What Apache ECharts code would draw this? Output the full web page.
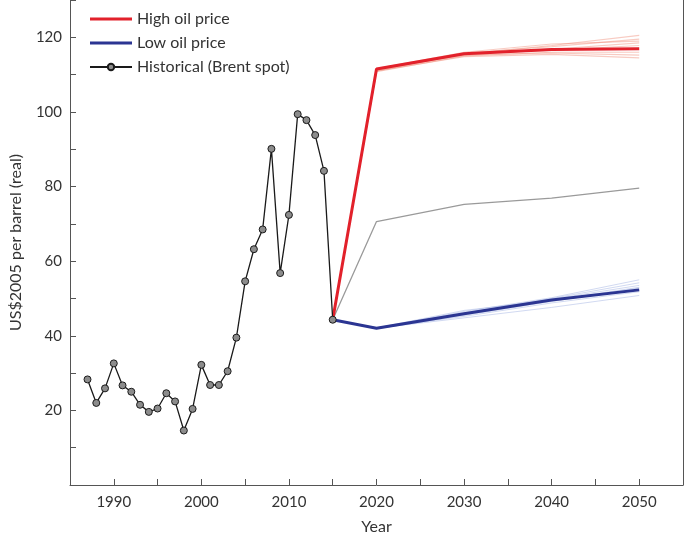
<!DOCTYPE html>
<html>
<head>
<meta charset="utf-8">
<script src="https://cdn.jsdelivr.net/npm/echarts@6/dist/echarts.min.js"></script>
<style>
  html, body { margin: 0; padding: 0; background: #fff; }
  #main { width: 685px; height: 544px; }
</style>
</head>
<body>
<div id="main"></div>
<script>
// historical Brent spot, US$2005 (real)
var histYears = [1987, 1988, 1989, 1990, 1991, 1992, 1993, 1994, 1995, 1996, 1997, 1998, 1999, 2000, 2001,
                 2002, 2003, 2004, 2005, 2006, 2007, 2008, 2009, 2010, 2011, 2012, 2013, 2014, 2015];
var histPrice = [28.3, 22.0, 25.9, 32.6, 26.7, 25.0, 21.5, 19.6, 20.5, 24.6, 22.4, 14.6, 20.4, 32.2, 26.8,
                 26.8, 30.5, 39.5, 54.6, 63.2, 68.5, 90.1, 56.8, 72.4, 99.4, 97.8, 93.8, 84.2, 44.3];

// projections
var projYears = [2015, 2020, 2030, 2040, 2050];
var highPrice = [44.3, 111.5, 115.6, 116.7, 116.9];
var lowPrice  = [44.3, 42.0, 45.9, 49.6, 52.3];
var midPrice  = [44.3, 70.6, 75.2, 76.9, 79.6];

// ensemble runs around each scenario
var highRuns = [
  [44.3, 111.0, 115.5, 117.8, 120.5],
  [44.3, 111.3, 115.8, 117.5, 119.5],
  [44.3, 111.5, 115.2, 116.8, 118.5],
  [44.3, 111.2, 115.6, 116.5, 117.8],
  [44.3, 110.8, 115.0, 116.0, 116.0],
  [44.3, 111.4, 115.3, 115.8, 115.2],
  [44.3, 111.0, 114.8, 115.4, 114.5],
  [44.3, 111.6, 116.0, 118.2, 119.0]
];
var lowRuns = [
  [44.3, 42.0, 46.5, 50.2, 55.0],
  [44.3, 42.0, 46.2, 50.0, 54.2],
  [44.3, 42.1, 46.0, 49.8, 53.5],
  [44.3, 41.9, 45.5, 49.2, 52.8],
  [44.3, 42.0, 45.2, 48.8, 51.8],
  [44.3, 42.0, 44.8, 47.6, 50.8],
  [44.3, 42.1, 46.8, 49.5, 53.0]
];

var FONT = 'Lato';
var BAR_ICON = 'path://M0,0 L42,0 L42,3 L0,3 Z';

function pairs(xs, ys) {
  return xs.map(function (x, i) { return [x, ys[i]]; });
}

var series = [];

highRuns.forEach(function (run, i) {
  series.push({
    name: 'high run ' + i, type: 'line', data: pairs(projYears, run),
    symbol: 'none', silent: true, z: 1,
    lineStyle: { color: 'rgba(240,140,120,0.45)', width: 1.2 }
  });
});
lowRuns.forEach(function (run, i) {
  series.push({
    name: 'low run ' + i, type: 'line', data: pairs(projYears, run),
    symbol: 'none', silent: true, z: 1,
    lineStyle: { color: 'rgba(140,160,220,0.4)', width: 1 }
  });
});

series.push({
  name: 'middle', type: 'line', data: pairs(projYears, midPrice),
  symbol: 'none', z: 2,
  lineStyle: { color: '#9a9a9a', width: 1.3 }
});
series.push({
  name: 'High oil price', type: 'line', data: pairs(projYears, highPrice),
  symbol: 'none', z: 3,
  lineStyle: { color: '#e2212b', width: 3 },
  itemStyle: { color: '#e2212b' }
});
series.push({
  name: 'Low oil price', type: 'line', data: pairs(projYears, lowPrice),
  symbol: 'none', z: 3,
  lineStyle: { color: '#2b3592', width: 3 },
  itemStyle: { color: '#2b3592' }
});
series.push({
  name: 'Historical (Brent spot)', type: 'line', data: pairs(histYears, histPrice),
  symbol: 'circle', symbolSize: 7, z: 5,
  lineStyle: { color: '#1a1a1a', width: 1.3 },
  itemStyle: { color: '#8c8c8c', borderColor: '#1a1a1a', borderWidth: 1 }
});

var chart = echarts.init(document.getElementById('main'), null, { renderer: 'canvas' });
chart.setOption({
  animation: false,
  textStyle: { fontFamily: FONT },
  grid: { left: 70, right: 2, top: 0, bottom: 59, outerBoundsMode: 'none' },
  legend: {
    data: [
      { name: 'High oil price', icon: BAR_ICON },
      { name: 'Low oil price', icon: BAR_ICON },
      { name: 'Historical (Brent spot)' }
    ],
    orient: 'vertical', left: 84, top: 6,
    itemWidth: 42, itemHeight: 8, itemGap: 8,
    textStyle: { fontFamily: FONT, fontSize: 16, color: '#333', lineHeight: 16 }
  },
  xAxis: {
    type: 'value', min: 1985, max: 2055, interval: 5,
    name: 'Year', nameLocation: 'middle', nameGap: 34,
    nameTextStyle: { fontFamily: FONT, fontSize: 16, color: '#333' },
    axisLine: { lineStyle: { color: '#555', width: 1 } },
    axisTick: { inside: true, length: 6, lineStyle: { color: '#555' } },
    axisLabel: {
      fontSize: 15, color: '#333', margin: 10,
      formatter: function (v) { return v % 10 === 0 ? String(v) : ''; }
    },
    splitLine: { show: false }
  },
  yAxis: [{
    type: 'value', min: 0, max: 130, interval: 10,
    name: 'US$2005 per barrel (real)', nameLocation: 'middle', nameGap: 46,
    nameTextStyle: { fontFamily: FONT, fontSize: 16, color: '#333' },
    axisLine: { show: true, lineStyle: { color: '#555', width: 1 } },
    axisTick: { show: true, inside: true, length: 6, lineStyle: { color: '#555' } },
    axisLabel: {
      fontSize: 15, color: '#333', margin: 8,
      formatter: function (v) { return (v > 0 && v % 20 === 0) ? String(v) : ''; }
    },
    splitLine: { show: false }
  }, {
    type: 'value', min: 0, max: 130, position: 'right',
    axisLine: { show: true, lineStyle: { color: '#555', width: 1 } },
    axisTick: { show: false }, axisLabel: { show: false },
    splitLine: { show: false }
  }],
  series: series
});
</script>
</body>
</html>
